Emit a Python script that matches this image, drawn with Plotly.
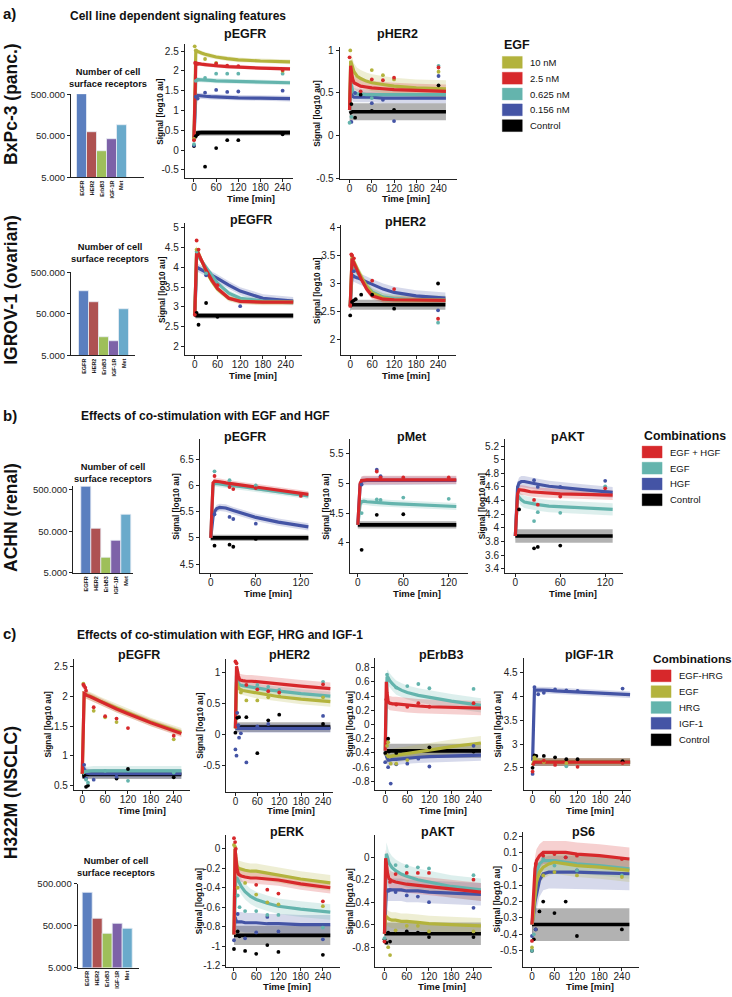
import plotly.graph_objects as go

W, H = 732, 997
FONT = "Liberation Sans, Arial, sans-serif"

OLIVE = "#b3b33d"
RED = "#d7282b"
TEAL = "#64b4ad"
BLUE = "#4454a5"
BLACK = "#000000"

# ---------------- series definitions ----------------
A_SERIES = ["10 nM", "2.5 nM", "0.625 nM", "0.156 nM", "Control"]
A_COLORS = [OLIVE, RED, TEAL, BLUE, BLACK]
A_ORDER = [4, 3, 2, 0, 1]
B_SERIES = ["EGF + HGF", "EGF", "HGF", "Control"]
B_COLORS = [RED, TEAL, BLUE, BLACK]
B_ORDER = [3, 2, 1, 0]
C_SERIES = ["EGF-HRG", "EGF", "HRG", "IGF-1", "Control"]
C_COLORS = [RED, OLIVE, TEAL, BLUE, BLACK]
C_ORDER = [4, 3, 2, 1, 0]

# ---------------- receptor bar data ----------------
RECEPTORS = ["EGFR", "HER2", "ErbB3", "IGF-1R", "Met"]
REC_COLORS = ["#5b7fbf", "#ae5252", "#9ebf5a", "#7d62a8", "#6aaacb"]
BXPC3_REC = [500000, 62600, 21500, 41000, 91000]
IGROV1_REC = [176000, 97800, 13400, 11100, 64500]
ACHN_REC = [601000, 56400, 11400, 29700, 128000]
H322M_REC = [306000, 72000, 31800, 55000, 43100]

# ---------------- time grids ----------------
TA = [0, 3, 5, 8, 12, 20, 30, 45, 60, 90, 120, 180, 260]
TB = [0, 3, 5, 8, 12, 20, 30, 45, 60, 90, 130]

# ---------------- a) BxPc-3 ----------------
A1_EGFR_CURVE = [
    [0.3, 2.45, 2.52, 2.5, 2.48, 2.45, 2.42, 2.38, 2.35, 2.31, 2.28, 2.25, 2.23],
    [0.3, 2.15, 2.2, 2.19, 2.18, 2.17, 2.16, 2.14, 2.13, 2.11, 2.09, 2.07, 2.05],
    [0.3, 1.7, 1.78, 1.78, 1.78, 1.77, 1.77, 1.76, 1.75, 1.74, 1.73, 1.71, 1.7],
    [0.3, 1.3, 1.37, 1.38, 1.38, 1.37, 1.36, 1.35, 1.34, 1.33, 1.32, 1.31, 1.3],
    [0.25, 0.38, 0.41, 0.43, 0.44, 0.44, 0.44, 0.44, 0.44, 0.44, 0.44, 0.44, 0.44],
]
A1_EGFR_BAND = [0.06, 0.05, 0.06, 0.07, 0.07]
A1_EGFR_PTS = [
    [[0, 0.28], [2, 2.62], [5, 2.52], [30, 2.3], [60, 2.2], [240, 2.0]],
    [[0, 0.25], [3, 2.2], [10, 2.18], [60, 2.18], [90, 2.13], [120, 2.12], [240, 2.02]],
    [[0, 0.15], [5, 1.75], [10, 1.78], [30, 1.82], [60, 1.93], [90, 1.93], [120, 1.93], [240, 1.93]],
    [[0, 0.12], [5, 1.35], [10, 1.3], [30, 1.45], [60, 1.52], [90, 1.47], [120, 1.48], [240, 1.5]],
    [[0, 0.1], [5, 0.35], [10, 0.4], [30, -0.42], [60, 0.05], [90, 0.25], [120, 0.25], [240, 0.4]],
]

A1_HER2_CURVE = [
    [0.3, 0.88, 0.85, 0.8, 0.75, 0.7, 0.67, 0.64, 0.62, 0.6, 0.58, 0.56, 0.55],
    [0.3, 0.82, 0.76, 0.67, 0.62, 0.6, 0.58, 0.57, 0.56, 0.55, 0.54, 0.53, 0.52],
    [0.3, 0.66, 0.6, 0.53, 0.5, 0.49, 0.49, 0.48, 0.48, 0.48, 0.48, 0.48, 0.48],
    [0.3, 0.55, 0.5, 0.46, 0.45, 0.45, 0.45, 0.45, 0.45, 0.44, 0.44, 0.44, 0.44],
    [0.26, 0.27, 0.28, 0.28, 0.28, 0.28, 0.28, 0.28, 0.28, 0.28, 0.28, 0.28, 0.28],
]
A1_HER2_BAND = [0.1, 0.08, 0.06, 0.06, 0.1]
A1_HER2_PTS = [
    [[0, 1.05], [2, 1.0], [60, 0.77], [90, 0.71], [120, 0.66], [240, 0.75]],
    [[0, 0.92], [30, 0.52], [60, 0.66], [90, 0.65], [120, 0.68], [240, 0.8]],
    [[0, 0.15], [5, 0.22], [60, 0.44], [240, 0.82]],
    [[5, 0.16], [15, 0.5], [60, 0.38], [90, 0.42], [120, 0.17], [240, 0.7]],
    [[5, 0.37], [15, 0.21], [30, 0.48], [60, 0.29], [120, 0.3], [240, 0.59]],
]

# ---------------- a) IGROV-1 ----------------
A2_EGFR_CURVE = [
    [2.8, 4.45, 4.45, 4.4, 4.3, 4.1, 3.9, 3.65, 3.45, 3.22, 3.15, 3.12, 3.12],
    [2.8, 4.4, 4.42, 4.38, 4.3, 4.12, 3.93, 3.68, 3.47, 3.22, 3.14, 3.12, 3.12],
    [2.8, 4.3, 4.33, 4.3, 4.25, 4.13, 4.0, 3.8, 3.6, 3.35, 3.22, 3.15, 3.13],
    [2.8, 3.95, 4.0, 3.99, 3.97, 3.93, 3.88, 3.8, 3.72, 3.55, 3.4, 3.22, 3.15],
    [2.8, 2.78, 2.78, 2.78, 2.78, 2.78, 2.78, 2.78, 2.78, 2.78, 2.78, 2.78, 2.78],
]
A2_EGFR_BAND = [0.08, 0.06, 0.07, 0.1, 0.07]
A2_EGFR_PTS = [
    [[5, 4.45]],
    [[0, 2.8], [5, 4.68], [10, 4.45], [60, 3.55]],
    [[5, 4.4], [30, 3.85]],
    [[30, 3.8], [120, 3.02]],
    [[5, 2.85], [10, 2.55], [30, 3.1], [60, 2.75]],
]

A2_HER2_CURVE = [
    [2.6, 3.45, 3.45, 3.42, 3.35, 3.25, 3.12, 2.95, 2.83, 2.74, 2.71, 2.7, 2.7],
    [2.6, 3.45, 3.45, 3.4, 3.33, 3.22, 3.08, 2.9, 2.78, 2.72, 2.71, 2.7, 2.7],
    [2.6, 3.35, 3.35, 3.33, 3.28, 3.2, 3.1, 2.95, 2.85, 2.76, 2.73, 2.71, 2.71],
    [2.6, 3.12, 3.15, 3.14, 3.12, 3.1, 3.07, 3.02, 2.98, 2.9, 2.84, 2.78, 2.74],
    [2.6, 2.62, 2.62, 2.62, 2.62, 2.62, 2.62, 2.62, 2.62, 2.62, 2.62, 2.62, 2.62],
]
A2_HER2_BAND = [0.08, 0.06, 0.07, 0.1, 0.09]
A2_HER2_PTS = [
    [[5, 3.48]],
    [[0, 2.6], [3, 3.52], [5, 3.5], [10, 3.45], [60, 3.05], [120, 2.9], [240, 2.37]],
    [[240, 2.3]],
    [[10, 3.22], [240, 2.52]],
    [[0, 2.43], [5, 2.67], [10, 2.7], [15, 2.72], [30, 2.8], [60, 2.8], [120, 2.55], [240, 3.0]],
]

# ---------------- b) ACHN ----------------
B_EGFR_CURVE = [
    [5.0, 6.05, 6.08, 6.08, 6.07, 6.05, 6.03, 6.0, 5.97, 5.91, 5.83],
    [5.0, 6.0, 6.04, 6.04, 6.03, 6.01, 6.0, 5.97, 5.94, 5.88, 5.8],
    [5.0, 5.4, 5.5, 5.56, 5.58, 5.57, 5.52, 5.45, 5.39, 5.3, 5.21],
    [5.0, 5.0, 5.0, 5.0, 5.0, 5.0, 5.0, 5.0, 5.0, 5.0, 5.0],
]
B_EGFR_BAND = [0.06, 0.06, 0.07, 0.06]
B_EGFR_PTS = [
    [[5, 6.18], [25, 5.97], [30, 5.93], [60, 5.95], [120, 5.8]],
    [[5, 6.27], [25, 6.1], [60, 6.0]],
    [[5, 5.45], [25, 5.4], [30, 5.36], [60, 5.27]],
    [[5, 4.85], [25, 4.87], [30, 4.83], [60, 4.98]],
]

B_MET_CURVE = [
    [4.3, 5.0, 5.05, 5.06, 5.06, 5.06, 5.06, 5.06, 5.06, 5.06, 5.06],
    [4.3, 4.65, 4.69, 4.7, 4.69, 4.68, 4.67, 4.66, 4.65, 4.63, 4.61],
    [4.3, 4.98, 5.04, 5.05, 5.05, 5.05, 5.05, 5.05, 5.05, 5.05, 5.05],
    [4.3, 4.3, 4.3, 4.3, 4.3, 4.3, 4.3, 4.3, 4.3, 4.3, 4.3],
]
B_MET_BAND = [0.07, 0.06, 0.07, 0.06]
B_MET_PTS = [
    [[25, 5.2], [30, 5.1], [60, 5.1], [120, 5.1]],
    [[5, 4.5], [25, 4.73], [30, 4.72], [60, 4.76], [120, 4.74]],
    [[5, 4.98], [25, 5.23], [30, 5.12]],
    [[5, 3.88], [25, 4.47], [60, 4.48]],
]

B_AKT_CURVE = [
    [3.88, 4.5, 4.56, 4.56, 4.55, 4.53, 4.52, 4.51, 4.5, 4.49, 4.48],
    [3.88, 4.48, 4.45, 4.41, 4.38, 4.36, 4.34, 4.32, 4.31, 4.29, 4.27],
    [3.88, 4.6, 4.66, 4.68, 4.68, 4.66, 4.64, 4.61, 4.59, 4.56, 4.52],
    [3.88, 3.88, 3.88, 3.88, 3.88, 3.88, 3.88, 3.88, 3.88, 3.88, 3.88],
]
B_AKT_BAND = [0.07, 0.09, 0.08, 0.1]
B_AKT_PTS = [
    [[25, 4.41], [30, 4.34], [60, 4.46], [120, 4.58]],
    [[25, 4.1], [30, 4.23], [60, 4.22], [120, 4.61]],
    [[25, 4.7], [30, 4.6], [60, 4.6], [120, 4.69]],
    [[5, 4.27], [25, 3.7], [30, 3.72], [60, 3.74]],
]

# ---------------- c) H322M ----------------
C_EGFR_CURVE = [
    [0.7, 2.0, 2.05, 2.04, 2.02, 2.0, 1.97, 1.92, 1.88, 1.79, 1.71, 1.56, 1.38],
    [0.7, 2.0, 2.05, 2.04, 2.03, 2.01, 1.98, 1.93, 1.89, 1.8, 1.72, 1.57, 1.4],
    [0.7, 0.72, 0.73, 0.74, 0.74, 0.75, 0.75, 0.75, 0.75, 0.75, 0.75, 0.75, 0.75],
    [0.7, 0.8, 0.78, 0.74, 0.71, 0.7, 0.7, 0.7, 0.7, 0.7, 0.7, 0.7, 0.7],
    [0.69, 0.69, 0.69, 0.69, 0.69, 0.69, 0.69, 0.69, 0.69, 0.69, 0.69, 0.69, 0.69],
]
C_EGFR_BAND = [0.06, 0.07, 0.08, 0.08, 0.08]
C_EGFR_PTS = [
    [[3, 2.2], [5, 2.18], [8, 2.15], [10, 2.1], [30, 1.82], [60, 1.67], [90, 1.63], [120, 1.47], [240, 1.34]],
    [[3, 2.22], [30, 1.76], [60, 1.65], [90, 1.57], [240, 1.28]],
    [[10, 0.6], [15, 0.55], [60, 0.75], [120, 0.58], [240, 0.72]],
    [[5, 0.85], [10, 0.62], [30, 0.6], [90, 0.65]],
    [[5, 0.65], [10, 0.48], [15, 0.5], [90, 0.62], [120, 0.78], [240, 0.64]],
]

C_HER2_CURVE = [
    [0.1, 1.1, 1.05, 0.95, 0.88, 0.87, 0.86, 0.86, 0.85, 0.83, 0.81, 0.78, 0.74],
    [0.1, 0.85, 0.82, 0.76, 0.73, 0.71, 0.7, 0.68, 0.66, 0.63, 0.61, 0.57, 0.53],
    [0.1, 0.95, 0.9, 0.84, 0.8, 0.79, 0.78, 0.76, 0.75, 0.72, 0.7, 0.66, 0.62],
    [0.1, 0.1, 0.1, 0.1, 0.1, 0.1, 0.1, 0.1, 0.1, 0.1, 0.1, 0.1, 0.1],
    [0.12, 0.12, 0.12, 0.12, 0.12, 0.12, 0.12, 0.12, 0.12, 0.12, 0.12, 0.12, 0.12],
]
C_HER2_BAND = [0.1, 0.08, 0.07, 0.07, 0.08]
C_HER2_PTS = [
    [[0, 1.18], [3, 1.15], [30, 0.8], [60, 0.73], [90, 0.7], [120, 0.68], [240, 0.81]],
    [[15, 0.68], [30, 0.55], [60, 0.55], [90, 0.6], [120, 0.62], [240, 0.6]],
    [[60, 0.8], [90, 0.77], [120, 0.72], [240, 0.85]],
    [[0, -0.24], [3, -0.34], [5, 0.35], [8, 0.15], [10, -0.05], [15, 0.02], [30, -0.45], [60, 0.13], [90, 0.17], [240, 0.3]],
    [[0, 0.03], [5, 0.27], [10, 0.28], [30, 0.28], [60, -0.3], [90, 0.23], [120, 0.32], [240, 0.17]],
]

C_ERBB3_CURVE = [
    [-0.37, 0.6, 0.45, 0.32, 0.3, 0.29, 0.29, 0.28, 0.27, 0.26, 0.25, 0.24, 0.23],
    [-0.4, -0.42, -0.44, -0.45, -0.45, -0.44, -0.43, -0.42, -0.41, -0.38, -0.36, -0.31, -0.26],
    [-0.37, 0.6, 0.67, 0.66, 0.62, 0.57, 0.52, 0.48, 0.45, 0.41, 0.38, 0.33, 0.27],
    [-0.4, -0.45, -0.48, -0.5, -0.5, -0.49, -0.49, -0.48, -0.47, -0.46, -0.45, -0.44, -0.43],
    [-0.37, -0.37, -0.37, -0.37, -0.37, -0.37, -0.37, -0.37, -0.37, -0.37, -0.37, -0.37, -0.37],
]
C_ERBB3_BAND = [0.1, 0.1, 0.1, 0.08, 0.1]
C_ERBB3_PTS = [
    [[3, 0.35], [30, 0.28], [60, 0.25], [90, 0.3], [120, 0.25], [240, 0.3]],
    [[5, -0.3], [8, -0.25], [15, -0.55], [30, -0.55], [60, -0.5]],
    [[5, 0.7], [30, 0.52], [60, 0.54], [90, 0.57], [120, 0.51], [240, 0.5]],
    [[0, -0.53], [8, -0.6], [15, -0.83], [30, -0.56], [60, -0.55], [90, -0.48], [120, -0.59], [240, -0.3]],
    [[0, -0.4], [8, -0.2], [10, -0.38], [30, -0.4], [120, -0.32], [240, -0.38]],
]

C_IGF1R_CURVE = [
    [2.55, 2.62, 2.62, 2.62, 2.62, 2.62, 2.62, 2.62, 2.62, 2.62, 2.62, 2.62, 2.62],
    [2.55, 2.68, 2.7, 2.68, 2.65, 2.63, 2.62, 2.62, 2.62, 2.62, 2.62, 2.62, 2.62],
    [2.55, 2.62, 2.62, 2.62, 2.62, 2.62, 2.62, 2.62, 2.62, 2.62, 2.62, 2.62, 2.62],
    [2.65, 4.15, 4.15, 4.14, 4.14, 4.14, 4.13, 4.13, 4.12, 4.11, 4.1, 4.07, 4.04],
    [2.62, 2.62, 2.62, 2.62, 2.62, 2.62, 2.62, 2.62, 2.62, 2.62, 2.62, 2.62, 2.62],
]
C_IGF1R_BAND = [0.08, 0.08, 0.08, 0.07, 0.08]
C_IGF1R_PTS = [
    [[0, 2.42], [30, 2.65], [60, 2.56], [120, 2.52], [240, 2.6]],
    [[5, 2.72], [30, 2.62], [90, 2.6]],
    [[90, 2.53]],
    [[0, 2.37], [5, 4.2], [15, 4.05], [30, 4.08], [60, 4.15], [90, 4.13], [120, 4.12], [240, 4.17]],
    [[0, 2.5], [5, 2.76], [10, 2.75], [30, 2.75], [60, 2.72], [90, 2.68], [120, 2.68], [240, 2.64]],
]

C_ERK_CURVE = [
    [-0.88, 0.0, -0.08, -0.2, -0.26, -0.28, -0.29, -0.3, -0.3, -0.31, -0.32, -0.36, -0.4],
    [-0.88, 0.0, -0.08, -0.17, -0.2, -0.21, -0.22, -0.23, -0.23, -0.25, -0.27, -0.31, -0.35],
    [-0.88, -0.35, -0.3, -0.3, -0.33, -0.39, -0.44, -0.49, -0.52, -0.56, -0.59, -0.62, -0.65],
    [-0.88, -0.7, -0.73, -0.75, -0.75, -0.75, -0.76, -0.76, -0.76, -0.77, -0.77, -0.78, -0.78],
    [-0.89, -0.89, -0.89, -0.89, -0.89, -0.89, -0.89, -0.89, -0.89, -0.89, -0.89, -0.89, -0.89],
]
C_ERK_BAND = [0.06, 0.08, 0.08, 0.1, 0.1]
C_ERK_PTS = [
    [[0, 0.11], [3, 0.07], [5, 0.0], [60, -0.37], [90, -0.42], [120, -0.46], [240, -0.54]],
    [[0, 0.04], [3, 0.02], [10, -0.4], [30, -0.35], [60, -0.47], [90, -0.55], [120, -0.57], [240, -0.59]],
    [[10, -0.48], [15, -0.6], [30, -0.64], [60, -0.64], [90, -0.68], [120, -0.68], [240, -0.81]],
    [[0, -0.94], [10, -0.67], [30, -0.92], [60, -0.86], [90, -0.7], [120, -0.85], [240, -0.93]],
    [[0, -1.03], [10, -0.85], [15, -0.9], [30, -1.05], [60, -1.08], [90, -0.99], [120, -1.06], [240, -1.09]],
]

C_AKT_CURVE = [
    [-0.68, -0.01, -0.05, -0.14, -0.19, -0.21, -0.22, -0.23, -0.24, -0.25, -0.26, -0.28, -0.31],
    [-0.68, -0.52, -0.53, -0.54, -0.55, -0.56, -0.56, -0.57, -0.57, -0.58, -0.59, -0.6, -0.61],
    [-0.68, 0.0, 0.03, 0.0, -0.05, -0.09, -0.12, -0.15, -0.17, -0.2, -0.22, -0.26, -0.29],
    [-0.68, -0.32, -0.3, -0.29, -0.29, -0.29, -0.29, -0.29, -0.3, -0.3, -0.31, -0.32, -0.33],
    [-0.68, -0.68, -0.68, -0.68, -0.68, -0.68, -0.68, -0.68, -0.68, -0.68, -0.68, -0.68, -0.68],
]
C_AKT_BAND = [0.08, 0.07, 0.1, 0.1, 0.1]
C_AKT_PTS = [
    [[0, -0.75], [15, -0.22], [30, -0.15], [60, -0.14], [90, -0.14], [120, -0.14], [240, -0.2]],
    [[10, -0.8], [15, -0.87], [30, -0.65], [60, -0.61], [90, -0.61], [120, -0.66], [240, -0.66]],
    [[0, -0.72], [30, -0.07], [60, -0.08], [90, -0.09], [120, -0.1], [240, -0.16]],
    [[10, -0.3], [15, -0.29], [30, -0.31], [60, -0.34], [90, -0.35], [120, -0.4], [240, -0.45]],
    [[0, -0.73], [5, -0.76], [10, -0.67], [15, -0.75], [60, -0.66], [90, -0.67], [120, -0.71], [240, -0.71]],
]

C_S6_CURVE = [
    [-0.34, -0.2, -0.1, 0.0, 0.05, 0.08, 0.1, 0.1, 0.1, 0.1, 0.09, 0.08, 0.06],
    [-0.34, -0.3, -0.24, -0.15, -0.08, -0.02, 0.01, 0.03, 0.04, 0.03, 0.02, 0.01, -0.01],
    [-0.34, -0.25, -0.18, -0.08, -0.02, 0.03, 0.05, 0.05, 0.05, 0.04, 0.03, 0.02, 0.0],
    [-0.34, -0.3, -0.26, -0.2, -0.15, -0.07, -0.03, -0.02, -0.02, -0.02, -0.02, -0.025, -0.03],
    [-0.34, -0.34, -0.34, -0.34, -0.34, -0.34, -0.34, -0.34, -0.34, -0.34, -0.34, -0.34, -0.34],
]
C_S6_BAND = [0.07, 0.07, 0.06, 0.1, 0.1]
C_S6_PTS = [
    [[0, -0.44], [10, 0.03], [30, 0.08], [60, 0.09], [90, 0.07], [120, 0.08], [240, 0.06]],
    [[0, -0.48], [30, -0.04], [60, -0.02], [120, -0.04], [240, -0.05]],
    [[0, -0.5], [5, -0.4], [30, 0.06], [60, 0.02], [120, -0.01], [240, -0.04]],
    [[0, -0.41], [10, -0.37], [90, 0.07], [120, -0.01]],
    [[0, -0.5], [5, -0.43], [10, -0.37], [20, -0.26], [30, -0.2], [60, -0.27], [90, -0.2], [120, -0.41], [240, -0.37]],
]

# ---------------- helpers ----------------
fig = go.Figure()
layout_axes = {}
annotations = []
shapes = []
counter = [0]


def rgba(hexc, a):
    h = hexc.lstrip("#")
    r, g, b = int(h[0:2], 16), int(h[2:4], 16), int(h[4:6], 16)
    return f"rgba({r},{g},{b},{a})"


def fx(x):
    return x / W


def fy(y):
    return 1 - y / H


def ann(x, y, text, size, bold=False, angle=0, xanchor="center", color="#111"):
    annotations.append(dict(
        x=fx(x), y=fy(y), xref="paper", yref="paper", text=(f"<b>{text}</b>" if bold else text),
        showarrow=False, xanchor=xanchor, yanchor="middle", textangle=angle,
        font=dict(family=FONT, size=size, color=color)))


def new_axes(box, xaxis_extra, yaxis_extra):
    counter[0] += 1
    n = counter[0]
    sx = "" if n == 1 else str(n)
    x0, x1, y0, y1 = box
    base = dict(showline=True, linecolor="#222", linewidth=1, showgrid=False, zeroline=False,
                ticks="outside", ticklen=3, tickwidth=1, tickcolor="#222", fixedrange=True,
                tickfont=dict(family=FONT, size=10, color="#222"))
    xa = dict(base, domain=[fx(x0), fx(x1)], anchor="y" + sx, ticklabelstandoff=-3)
    xa.update(xaxis_extra)
    ya = dict(base, domain=[fy(y1), fy(y0)], anchor="x" + sx)
    ya.update(yaxis_extra)
    layout_axes["xaxis" + sx] = xa
    layout_axes["yaxis" + sx] = ya
    return "x" + sx, "y" + sx


def tick_text(vals):
    return [f"{v:g}" for v in vals]


def line_panel(box, xr, yr, xticks, yticks, T, curves, bands, pts, colors, order,
               title, title_xy, ytitle_x, xtitle_xy):
    xref, yref = new_axes(box,
                          dict(range=xr, tickvals=xticks, ticktext=tick_text(xticks)),
                          dict(range=yr, tickvals=yticks, ticktext=tick_text(yticks)))
    for i in order:
        up = [v + bands[i] for v in curves[i]]
        lo = [v - bands[i] for v in curves[i]]
        fc = rgba("#000000", 0.3) if colors[i] == BLACK else rgba(colors[i], 0.22)
        fig.add_trace(go.Scatter(x=T + T[::-1], y=up + lo[::-1], fill="toself", fillcolor=fc,
                                 line=dict(width=0), mode="lines", hoverinfo="skip",
                                 showlegend=False, xaxis=xref, yaxis=yref))
    for i in order:
        fig.add_trace(go.Scatter(x=T, y=curves[i], mode="lines",
                                 line=dict(color=colors[i], width=3.6 if colors[i] == BLACK else 3.2),
                                 showlegend=False, xaxis=xref, yaxis=yref))
    for i in order:
        fig.add_trace(go.Scatter(x=[p[0] for p in pts[i]], y=[p[1] for p in pts[i]], mode="markers",
                                 marker=dict(color=colors[i], size=3.8), cliponaxis=False,
                                 showlegend=False, xaxis=xref, yaxis=yref))
    x0, x1, y0, y1 = box
    ann(title_xy[0], title_xy[1], title, 12.5, bold=True)
    ann(ytitle_x, (y0 + y1) / 2, "Signal [log10 au]", 8.3, bold=True, angle=-90)
    ann(xtitle_xy[0], xtitle_xy[1], "Time [min]", 9.5, bold=True)


def bar_panel(box, xr, ytop, values, title_x, title_y):
    xref, yref = new_axes(box,
                          dict(range=xr, tickvals=list(range(len(RECEPTORS))),
                               ticktext=[f"<b>{r}</b>" for r in RECEPTORS], tickangle=-90,
                               ticks="", ticklabelstandoff=0,
                               tickfont=dict(family=FONT, size=5.5, color="#222")),
                          dict(type="log", range=[3.699, ytop], tickvals=[5000, 50000, 500000],
                               ticktext=["5.000", "50.000", "500.000"],
                               tickfont=dict(family=FONT, size=9.5, color="#222")))
    fig.add_trace(go.Bar(x=list(range(len(RECEPTORS))), y=values, width=1,
                         marker=dict(color=REC_COLORS, line=dict(color="#e8eef5", width=0.8)),
                         showlegend=False, xaxis=xref, yaxis=yref))
    ann(title_x, title_y, "Number of cell<br>surface receptors", 9.3, bold=True, xanchor="left")


def legend(x, y_title, title, size, labels, colors, ys):
    ann(x, y_title, title, size, bold=True, xanchor="left")
    for lab, col, yy in zip(labels, colors, ys):
        shapes.append(dict(type="rect", xref="paper", yref="paper", x0=fx(x), x1=fx(x + 20),
                           y0=fy(yy + 6), y1=fy(yy - 6), fillcolor=col,
                           line=dict(color=rgba(col, 0.35), width=1)))
        ann(x + 26, yy, lab, 9.5, xanchor="left")


XT4 = [0, 60, 120, 180, 240]
XT2 = [0, 60, 120]

# ---------------- section a ----------------
ann(10, 8, "a)", 15, bold=True)
ann(178, 10, "Cell line dependent signaling features", 12, bold=True)
ann(11, 99, "BxPc-3 (panc.)", 17.5, bold=True, angle=-90)
ann(11, 287, "IGROV-1 (ovarian)", 17.5, bold=True, angle=-90)

bar_panel((71, 144, 89.1, 173.3), [-1.14, 6.25], 5.701, BXPC3_REC, 67, 72.7)
line_panel((185, 293, 38, 174.3), [-25, 267], [-0.715, 2.69], XT4,
           [-0.5, 0, 0.5, 1, 1.5, 2, 2.5], TA, A1_EGFR_CURVE, A1_EGFR_BAND, A1_EGFR_PTS,
           A_COLORS, A_ORDER, "pEGFR", (245, 28), 160, (251.7, 195))
line_panel((340, 457.7, 41.7, 175), [-27, 290], [-0.512, 1.038], XT4,
           [-0.5, 0, 0.5, 1], TA, A1_HER2_CURVE, A1_HER2_BAND, A1_HER2_PTS,
           A_COLORS, A_ORDER, "pHER2", (398, 28), 318, (406.7, 195))

bar_panel((71, 135, 269.1, 353.3), [-1.3, 5.1], 5.701, IGROV1_REC, 69, 250)
line_panel((185, 302.7, 219.3, 353.3), [-26.4, 284], [1.775, 5.125], XT4,
           [2, 2.5, 3, 3.5, 4, 4.5, 5], TA, A2_EGFR_CURVE, A2_EGFR_BAND, A2_EGFR_PTS,
           A_COLORS, A_ORDER, "pEGFR", (251.7, 216.7), 162, (253, 373.3))
line_panel((341.7, 457, 221.7, 353.3), [-24.5, 290], [1.716, 4.04], XT4,
           [2, 2.5, 3, 3.5, 4], TA, A2_HER2_CURVE, A2_HER2_BAND, A2_HER2_PTS,
           A_COLORS, A_ORDER, "pHER2", (406, 218.3), 318, (407, 374))

legend(503, 39, "EGF", 12.5, A_SERIES, A_COLORS, [57, 73, 89, 105, 121])

# ---------------- section b ----------------
ann(10, 414, "b)", 15, bold=True)
ann(206, 415, "Effects of co-stimulation with EGF and HGF", 12, bold=True)
ann(11, 516.7, "ACHN (renal)", 17.5, bold=True, angle=-90)

bar_panel((73.3, 133, 485, 573.3), [-1.27, 4.7], 5.794, ACHN_REC, 72, 472.5)
line_panel((200, 313.3, 438.3, 573.3), [-14.7, 136], [4.33, 6.877], XT2,
           [4.5, 5, 5.5, 6, 6.5], TB, B_EGFR_CURVE, B_EGFR_BAND, B_EGFR_PTS,
           B_COLORS, B_ORDER, "pEGFR", (245, 436), 176.7, (268.3, 594))
line_panel((350, 468.3, 438.3, 573.3), [-11, 145], [3.49, 5.74], XT2,
           [4, 4.5, 5, 5.5], TB, B_MET_CURVE, B_MET_BAND, B_MET_PTS,
           B_COLORS, B_ORDER, "pMet", (412.7, 436), 327, (417.3, 594))
line_panel((505.7, 624, 438.3, 573.3), [-13.8, 144], [3.338, 5.297], XT2,
           [3.4, 3.6, 3.8, 4, 4.2, 4.4, 4.6, 4.8, 5, 5.2], TB, B_AKT_CURVE, B_AKT_BAND, B_AKT_PTS,
           B_COLORS, B_ORDER, "pAKT", (569, 436), 482.7, (573.3, 594))

legend(643, 434.3, "Combinations", 12.3, B_SERIES, B_COLORS, [451, 467.3, 483.3, 499.3])

# ---------------- section c ----------------
ann(10, 634, "c)", 15, bold=True)
ann(220, 636, "Effects of co-stimulation with EGF, HRG and IGF-1", 12, bold=True)
ann(11, 795, "H322M (NSCLC)", 17.5, bold=True, angle=-90)

line_panel((74, 190, 660, 792.7), [-21.9, 282], [0.427, 2.638], XT4,
           [0.5, 1, 1.5, 2, 2.5], TA, C_EGFR_CURVE, C_EGFR_BAND, C_EGFR_PTS,
           C_COLORS, C_ORDER, "pEGFR", (139.3, 656.7), 48.3, (141.7, 813.8))
line_panel((226.7, 333, 660, 794.3), [-24.7, 266], [-0.919, 1.223], XT4,
           [-0.5, 0, 0.5, 1], TA, C_HER2_CURVE, C_HER2_BAND, C_HER2_PTS,
           C_COLORS, C_ORDER, "pHER2", (290, 656.7), 200, (291.7, 813.8))
line_panel((376, 493, 659, 792.7), [-26.4, 291], [-0.92, 0.939], XT4,
           [-0.8, -0.6, -0.4, -0.2, 0, 0.2, 0.4, 0.6, 0.8], TA, C_ERBB3_CURVE, C_ERBB3_BAND,
           C_ERBB3_PTS, C_COLORS, C_ORDER, "pErbB3", (441.7, 656.7), 350, (443.3, 813.8))
line_panel((524.3, 631.7, 659, 792.7), [-24, 262], [2.033, 4.819], XT4,
           [2.5, 3, 3.5, 4, 4.5], TA, C_IGF1R_CURVE, C_IGF1R_BAND, C_IGF1R_PTS,
           C_COLORS, C_ORDER, "pIGF-1R", (590, 656.7), 498.3, (590.7, 813.8))

bar_panel((77.7, 139.3, 887.5, 972.3), [-1.0, 5.16], 5.701, H322M_REC, 75, 870.5)
line_panel((226.7, 340, 838.3, 972.2), [-20.5, 285], [-1.22, 0.142], XT4,
           [-1.2, -1, -0.8, -0.6, -0.4, -0.2, 0], TA, C_ERK_CURVE, C_ERK_BAND, C_ERK_PTS,
           C_COLORS, C_ORDER, "pERK", (287.3, 835), 199.3, (287.3, 991.8))
line_panel((376, 492.7, 838.3, 971.7), [-24.3, 290], [-0.976, 0.197], XT4,
           [-0.8, -0.6, -0.4, -0.2, 0], TA, C_AKT_CURVE, C_AKT_BAND, C_AKT_PTS,
           C_COLORS, C_ORDER, "pAKT", (438.3, 835), 350, (442.7, 991.8))
line_panel((524, 640, 835, 971.7), [-23.2, 286], [-0.599, 0.226], XT4,
           [-0.5, -0.4, -0.3, -0.2, -0.1, 0, 0.1, 0.2], TA, C_S6_CURVE, C_S6_BAND, C_S6_PTS,
           C_COLORS, C_ORDER, "pS6", (584, 835), 497.7, (590.7, 991.8))

legend(652, 660, "Combinations", 11.8, C_SERIES, C_COLORS, [677.3, 693.3, 709.3, 725.3, 742])

fig.update_layout(
    width=W, height=H, margin=dict(l=0, r=0, t=0, b=0),
    paper_bgcolor="white", plot_bgcolor="white",
    showlegend=False, bargap=0, annotations=annotations, shapes=shapes,
    font=dict(family=FONT, size=9, color="#111"),
    **layout_axes,
)

fig.write_html("out.html", config={"displayModeBar": False},
               post_script="document.body.style.margin='0px';document.body.style.overflow='hidden';")
